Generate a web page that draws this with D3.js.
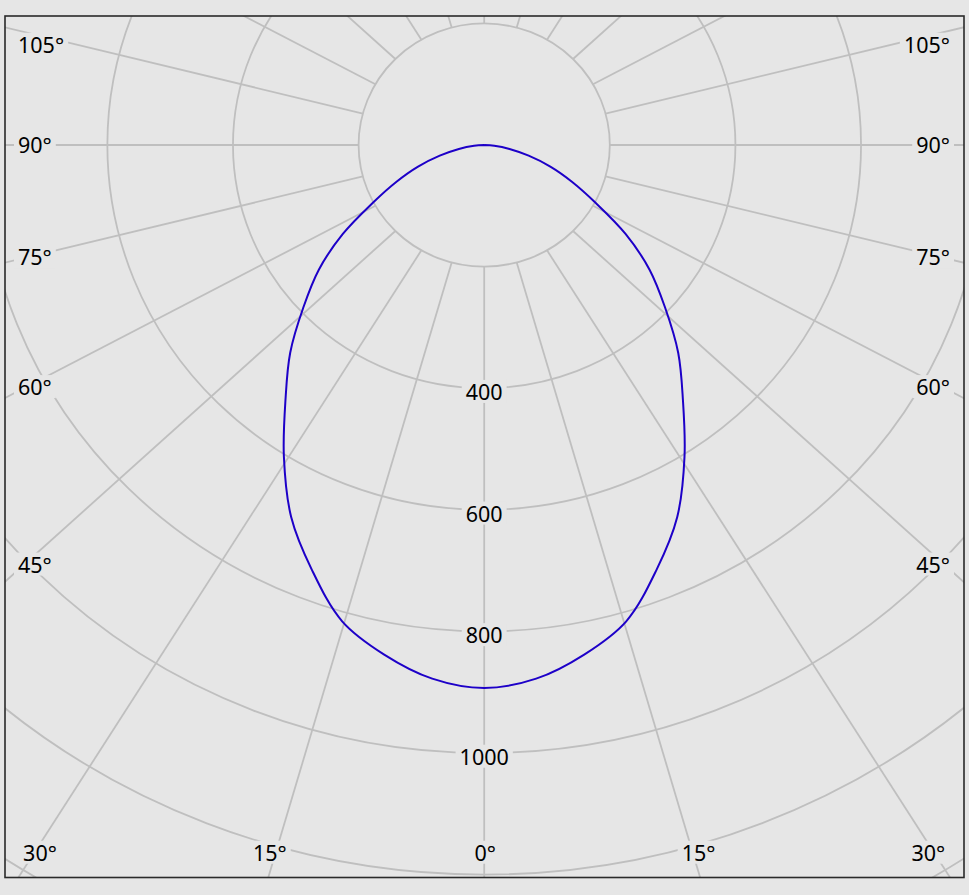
<!DOCTYPE html>
<html>
<head>
<meta charset="utf-8">
<script src="https://cdn.jsdelivr.net/npm/d3@7"></script>
<style>
  html, body { margin: 0; padding: 0; background: #e6e6e6; }
  svg { display: block; }
</style>
</head>
<body>
<svg id="chart" width="969" height="895"></svg>
<script>
// ---------------- DATA ----------------
// Luminous intensity (cd) vs. angle from nadir (deg); symmetric distribution
const curveAngles    = [0, 5, 10, 15, 20, 25, 30, 35, 40, 45, 50, 55, 60, 65, 70, 75, 80, 85, 90];
const curveIntensity = [893, 881, 851, 811, 744, 675, 592, 512, 446, 378, 319, 255, 190, 143, 104, 68, 38, 15, 0];
// Grid
const ringValues       = [200, 400, 600, 800, 1000, 1200, 1400];
const ringLabelValues  = [400, 600, 800, 1000];
const spokeAngles      = [-165, -150, -135, -120, -105, -90, -75, -60, -45, -30, -15, 0,
                          15, 30, 45, 60, 75, 90, 105, 120, 135, 150, 165, 180];
const sideLabelAngles   = [45, 60, 75, 90, 105];
const bottomLabelAngles = [0, 15, 30];

// ---------------- LAYOUT ----------------
const W = 969, H = 895;
const box = { x0: 5, y0: 16, x1: 964, y1: 877.5 };
const cx = 484.2, cy = 145;
const rScale = d3.scaleLinear().domain([0, 1000]).range([0, 608]);
const ringAspect = 1.033;     // rings slightly wider than tall
const dataStretch = 1.113;    // horizontal stretch of angular data space
const inset = { left: 35, right: 933, top: 45, bottom: 853 };
const gridColor = "#bfbfbf";
const bgColor = "#e6e6e6";
const font = "'Noto Sans', 'Open Sans', sans-serif";
const rad = d => d * Math.PI / 180;

const svg = d3.select("#chart");
svg.append("rect").attr("width", W).attr("height", H).attr("fill", bgColor);

const defs = svg.append("defs");
defs.append("clipPath").attr("id", "plotClip")
  .append("rect")
  .attr("x", box.x0).attr("y", box.y0)
  .attr("width", box.x1 - box.x0).attr("height", box.y1 - box.y0);

const plot = svg.append("g").attr("clip-path", "url(#plotClip)");
plot.append("rect")
  .attr("x", box.x0).attr("y", box.y0)
  .attr("width", box.x1 - box.x0).attr("height", box.y1 - box.y0)
  .attr("fill", bgColor);

// rings
plot.append("g").selectAll("ellipse").data(ringValues).join("ellipse")
  .attr("cx", cx).attr("cy", cy)
  .attr("rx", d => rScale(d) * ringAspect)
  .attr("ry", d => rScale(d))
  .attr("fill", "none")
  .attr("stroke", gridColor)
  .attr("stroke-width", 1.8);

// spokes: from inner ring outward
const innerR = ringValues[0];
function ringPt(v, a) {
  const t = rad(a);
  return [cx - rScale(v) * ringAspect * Math.sin(t), cy + rScale(v) * Math.cos(t)];
}
plot.append("g").selectAll("line").data(spokeAngles).join("line")
  .each(function (a) {
    const t = rad(a);
    const p = ringPt(innerR, a);
    const L = 3000;
    d3.select(this)
      .attr("x1", p[0]).attr("y1", p[1])
      .attr("x2", p[0] - L * dataStretch * Math.sin(t))
      .attr("y2", p[1] + L * Math.cos(t));
  })
  .attr("stroke", gridColor)
  .attr("stroke-width", 1.8);

// labels
const labelG = svg.append("g")
  .attr("font-family", font).attr("font-size", 21.5).attr("fill", "#000");

function addLabel(text, x, y, anchor) {
  const g = labelG.append("g");
  const rect = g.append("rect").attr("fill", bgColor);
  const tx = g.append("text")
    .attr("x", x).attr("y", y).attr("dy", "0.36em")
    .attr("text-anchor", anchor)
    .text(text);
  const bb = tx.node().getBBox();
  rect.attr("x", bb.x - 4).attr("y", bb.y + 3).attr("width", bb.width + 8).attr("height", bb.height - 6);
}

// ring labels on the 0° axis
ringLabelValues.forEach(v => addLabel(String(v), cx, cy + rScale(v) + 4, "middle"));

// side angle labels (both sides)
const sideStretch = 1.07;
sideLabelAngles.forEach(a => {
  const t = rad(a);
  const dx = cx - inset.left;
  let y = cy + dx / (sideStretch * Math.tan(t));
  if (Math.abs(Math.tan(t)) > 1e6) y = cy;
  y = Math.max(inset.top, y);
  addLabel(a + "°", 18, y, "start");
  addLabel(a + "°", 950, y, "end");
});

// bottom angle labels
const bottomStretch = 1.13;
bottomLabelAngles.forEach(a => {
  const t = rad(a);
  const off = Math.min((inset.bottom - cy) * bottomStretch * Math.tan(t), cx - 40);
  if (a === 0) {
    addLabel("0°", cx + 1, inset.bottom, "middle");
  } else {
    addLabel(a + "°", cx - off, inset.bottom, "middle");
    addLabel(a + "°", cx + off, inset.bottom, "middle");
  }
});

// intensity curve (mirror the symmetric half)
const pts = [];
for (let i = curveAngles.length - 1; i >= 0; i--) pts.push({ a: curveAngles[i], v: curveIntensity[i] });
for (let i = 1; i < curveAngles.length; i++) pts.push({ a: -curveAngles[i], v: curveIntensity[i] });

const line = d3.line()
  .x(d => cx - rScale(d.v) * dataStretch * Math.sin(rad(d.a)))
  .y(d => cy + rScale(d.v) * Math.cos(rad(d.a)))
  .curve(d3.curveCatmullRom.alpha(0.5));

svg.append("g").attr("clip-path", "url(#plotClip)")
  .append("path")
  .datum(pts)
  .attr("d", line)
  .attr("fill", "none")
  .attr("stroke", "#1d00c8")
  .attr("stroke-width", 2);

// border
svg.append("rect")
  .attr("x", box.x0).attr("y", box.y0)
  .attr("width", box.x1 - box.x0).attr("height", box.y1 - box.y0)
  .attr("fill", "none")
  .attr("stroke", "#2a2a2a")
  .attr("stroke-width", 1.6);
</script>
</body>
</html>
